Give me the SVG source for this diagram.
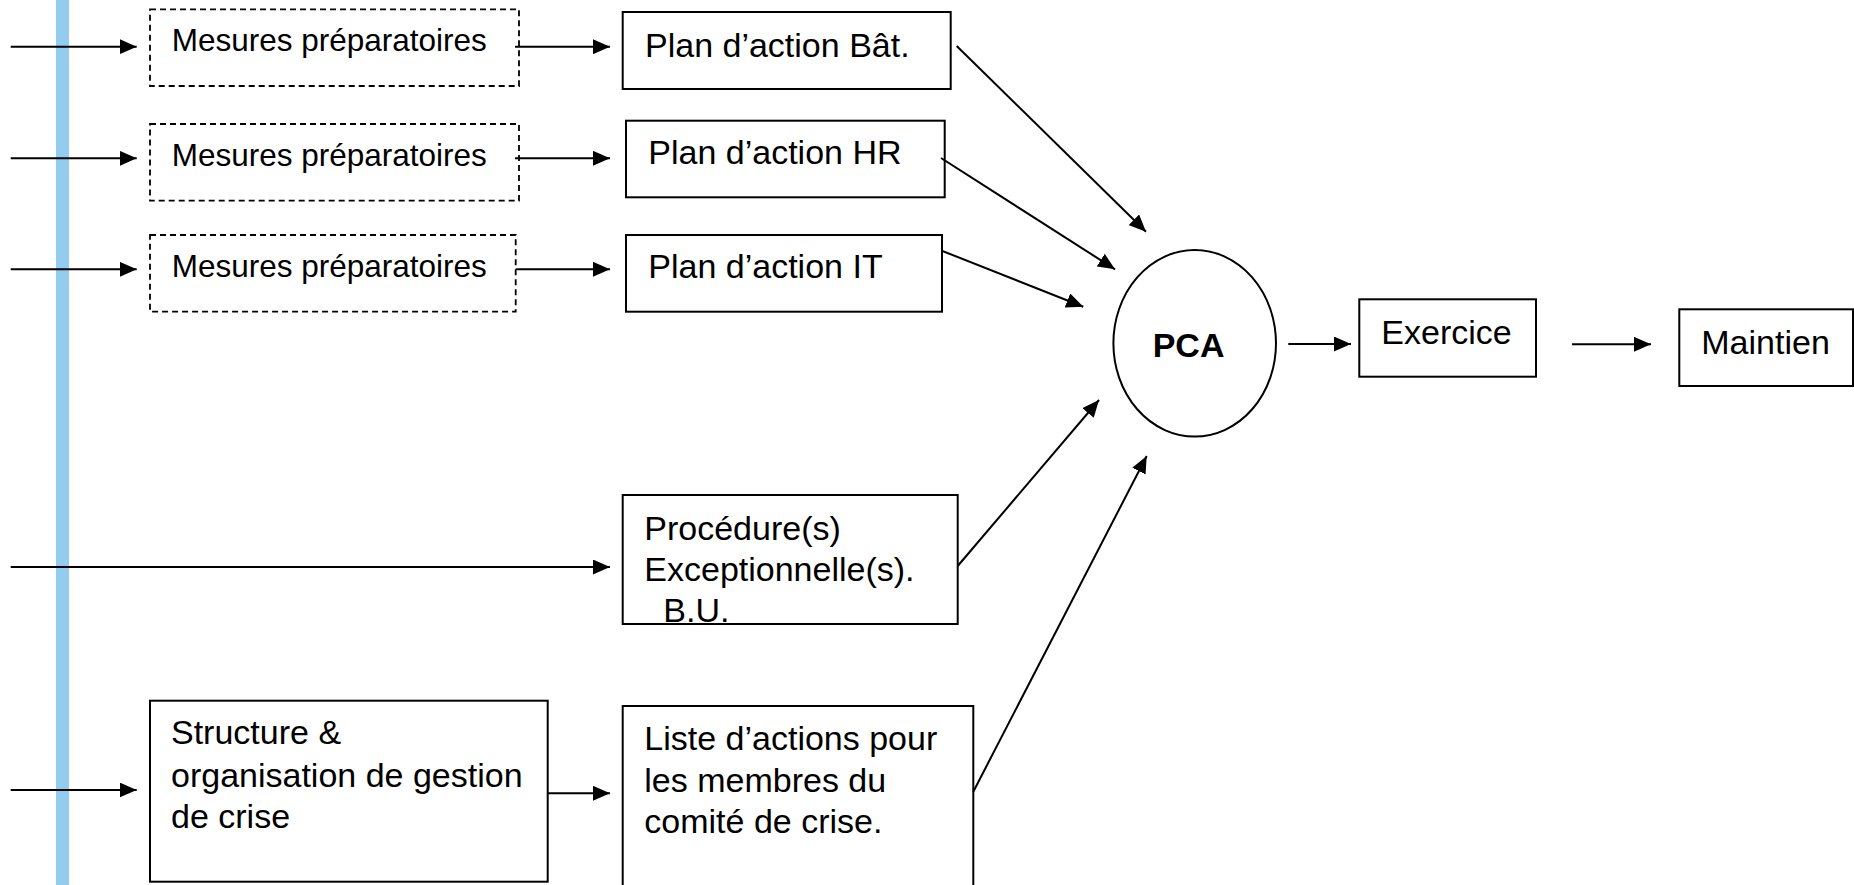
<svg xmlns="http://www.w3.org/2000/svg" width="1854" height="885" viewBox="0 0 1854 885">
<style>
  .box { fill: #ffffff; stroke: #000000; stroke-width: 2; }
  .dash { fill: #ffffff; stroke: #000000; stroke-width: 1.8; stroke-dasharray: 6 4; }
  .conn { fill: none; stroke: #000000; stroke-width: 2; marker-end: url(#arrow); }
  .t { font-family: "Liberation Sans", Arial, sans-serif; font-size: 34px; fill: #000000; }
  .tm { font-family: "Liberation Sans", Arial, sans-serif; font-size: 31.5px; fill: #000000; }
  .tb { font-family: "Liberation Sans", Arial, sans-serif; font-size: 34px; font-weight: bold; fill: #000000; }
</style>
<defs>
  <marker id="arrow" markerUnits="userSpaceOnUse" markerWidth="17" markerHeight="15" refX="17" refY="7.5" orient="auto">
    <path d="M0,0 L17,7.5 L0,15 z" fill="#000000"/>
  </marker>
</defs>
<rect x="0" y="0" width="1854" height="885" fill="#ffffff"/>
<rect id="timeline-bar" x="56" y="0" width="13" height="885" fill="#92CDF0"/>

<g id="mesures1">
  <rect class="dash" x="150" y="9.3" width="369" height="76.7"/>
  <text class="tm" x="171.7" y="50.7">Mesures préparatoires</text>
</g>
<g id="mesures2">
  <rect class="dash" x="150" y="124" width="369" height="76.7"/>
  <text class="tm" x="171.7" y="165.7">Mesures préparatoires</text>
</g>
<g id="mesures3">
  <rect class="dash" x="150" y="235" width="365.7" height="76.7"/>
  <text class="tm" x="171.7" y="276.7">Mesures préparatoires</text>
</g>

<g id="plan-bat">
  <rect class="box" x="622.7" y="12" width="328" height="77"/>
  <text class="t" x="645" y="57.3">Plan d’action Bât.</text>
</g>
<g id="plan-hr">
  <rect class="box" x="626" y="120.7" width="318.7" height="76.6"/>
  <text class="t" x="648.3" y="164.3">Plan d’action HR</text>
</g>
<g id="plan-it">
  <rect class="box" x="626" y="235" width="316" height="76.7"/>
  <text class="t" x="648.3" y="278.3">Plan d’action IT</text>
</g>

<g id="procedures">
  <rect class="box" x="622.7" y="495" width="335" height="129"/>
  <text class="t" x="644.3" y="540">Procédure(s)</text>
  <text class="t" x="644.3" y="581">Exceptionnelle(s).</text>
  <text class="t" x="663.3" y="621.7">B.U.</text>
</g>

<g id="structure">
  <rect class="box" x="150" y="700.7" width="397.7" height="181"/>
  <text class="t" x="171" y="744.3">Structure &amp;</text>
  <text class="t" x="171" y="786.7">organisation de gestion</text>
  <text class="t" x="171" y="828.3">de crise</text>
</g>

<g id="liste">
  <rect class="box" x="622.7" y="706" width="350.6" height="190"/>
  <text class="t" x="644.3" y="750">Liste d’actions pour</text>
  <text class="t" x="644.3" y="791.7">les membres du</text>
  <text class="t" x="644.3" y="833.3">comité de crise.</text>
</g>

<g id="pca">
  <ellipse class="box" cx="1194.7" cy="343.3" rx="81.3" ry="93.3"/>
  <text class="tb" x="1152.7" y="357.3">PCA</text>
</g>

<g id="exercice">
  <rect class="box" x="1359.3" y="299.3" width="176.7" height="77.4"/>
  <text class="t" x="1381.3" y="344.3">Exercice</text>
</g>

<g id="maintien">
  <rect class="box" x="1679.3" y="309.3" width="173.7" height="76.7"/>
  <text class="t" x="1701.3" y="354.3">Maintien</text>
</g>

<g id="connectors">
  <path class="conn" d="M10.7,46.7 H136.7"/>
  <path class="conn" d="M10.7,158.3 H136.7"/>
  <path class="conn" d="M10.7,269.3 H136.7"/>
  <path class="conn" d="M10.7,567 H610"/>
  <path class="conn" d="M10.7,790 H136.7"/>
  <path class="conn" d="M515,46.7 H610"/>
  <path class="conn" d="M515,158.3 H610"/>
  <path class="conn" d="M515.7,269.3 H610"/>
  <path class="conn" d="M547.7,793.3 H610"/>
  <path class="conn" d="M956.7,46 L1146,231.7"/>
  <path class="conn" d="M941,158 L1115,269.3"/>
  <path class="conn" d="M941.7,250.7 L1083.3,306.7"/>
  <path class="conn" d="M957.7,566 L1099,400"/>
  <path class="conn" d="M973.3,791.7 L1146.7,456"/>
  <path class="conn" d="M1288.3,344 H1351"/>
  <path class="conn" d="M1572,344.3 H1651"/>
</g>
</svg>
